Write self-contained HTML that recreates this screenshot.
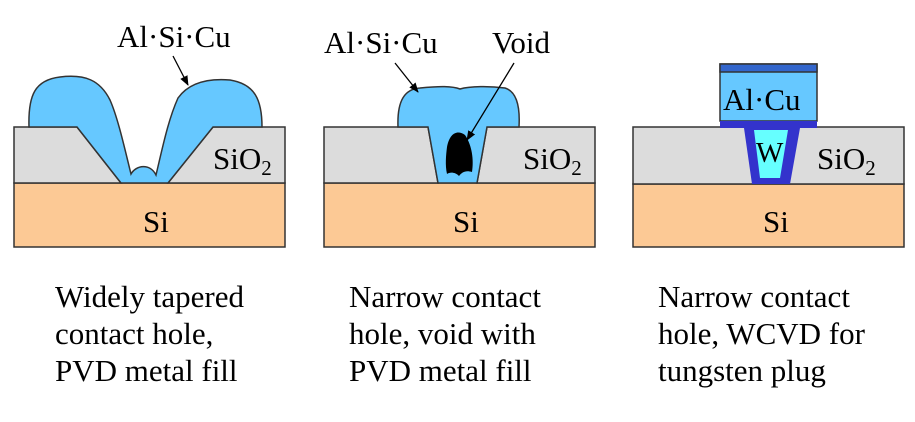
<!DOCTYPE html>
<html><head><meta charset="utf-8"><style>
html,body{margin:0;padding:0;background:#fff;}
svg{display:block}
text{font-family:"Liberation Serif",serif;fill:#000}
</style></head><body>
<svg width="915" height="422" viewBox="0 0 915 422" xmlns="http://www.w3.org/2000/svg">
<defs><marker id="ah" markerWidth="10" markerHeight="10" refX="9" refY="5" orient="auto" markerUnits="userSpaceOnUse"><path d="M0,1 L10,5 L0,9 Z" fill="#000"/></marker></defs>
<g stroke="#333" stroke-width="1.5">
<rect x="14" y="183" width="271" height="64" fill="#fcc995"/>
<path d="M14,127 H77 L121,183 H14 Z M213,127 H285 V183 H168 Z" fill="#dcdcdc"/>
<path d="M29,127 C28,95 35,80 60,77 C85,74 100,80 110,100 C118,118 125,150 131,174 C136,165 150,163 156,175 C162,150 168,120 178,98 C188,84 205,78 230,80 C255,84 262,100 262,127 H213 L168,183 H121 L77,127 Z" fill="#66c8ff"/>
<rect x="324" y="183" width="271" height="64" fill="#fcc995"/>
<path d="M324,127 H428 L438,183 H324 Z M487,127 H595 V183 H477 Z" fill="#dcdcdc"/>
<path d="M398,127 C397,100 405,89 420,88 C440,86 452,86 460,89 C470,86 490,86 505,88 C518,92 520,110 519,127 H487 L477,183 H438 L428,127 Z" fill="#66c8ff"/>
<path d="M447,147 C450,132 458,130 465,135 C472,145 474,160 472,172 C466,170 462,172 459,176 C455,172 450,172 447,174 C445,165 446,155 447,147 Z" fill="#000" stroke="none"/>
<rect x="633" y="184" width="271" height="63" fill="#fcc995"/>
<rect x="633" y="127" width="271" height="57" fill="#dcdcdc"/>
<rect x="720" y="64" width="97" height="57" fill="#66c8ff"/>
<rect x="720" y="64" width="97" height="8" fill="#3366cc"/>
</g>
<path d="M720,121 H817 V128 H800 L790,184 H752 L744,128 H720 Z" fill="#3333cc"/>
<path d="M754,130 H788 L780,178 H760 Z" fill="#66ffff"/>
<g stroke="#000" stroke-width="1.3" fill="none">
<line x1="173" y1="56" x2="188" y2="85" marker-end="url(#ah)"/>
<line x1="395" y1="63" x2="418" y2="92" marker-end="url(#ah)"/>
<line x1="514" y1="63" x2="467" y2="140" marker-end="url(#ah)"/>
</g>
<g font-size="31">
<text x="117" y="47">Al·Si·Cu</text>
<text x="324" y="53">Al·Si·Cu</text>
<text x="492" y="53">Void</text>
<text x="213" y="169">SiO<tspan font-size="21" dy="6">2</tspan></text>
<text x="523" y="169">SiO<tspan font-size="21" dy="6">2</tspan></text>
<text x="817" y="169">SiO<tspan font-size="21" dy="6">2</tspan></text>
<text x="143" y="232">Si</text>
<text x="453" y="232">Si</text>
<text x="763" y="232">Si</text>
<text x="723" y="110">Al·Cu</text>
<text x="756" y="162" font-size="29">W</text>
</g>
<g font-size="31">
<text x="55" y="307">Widely tapered</text>
<text x="55" y="344">contact hole,</text>
<text x="55" y="381">PVD metal fill</text>
<text x="349" y="307">Narrow contact</text>
<text x="349" y="344">hole, void with</text>
<text x="349" y="381">PVD metal fill</text>
<text x="658" y="307">Narrow contact</text>
<text x="658" y="344">hole, WCVD for</text>
<text x="658" y="381">tungsten plug</text>
</g>
</svg>
</body></html>
